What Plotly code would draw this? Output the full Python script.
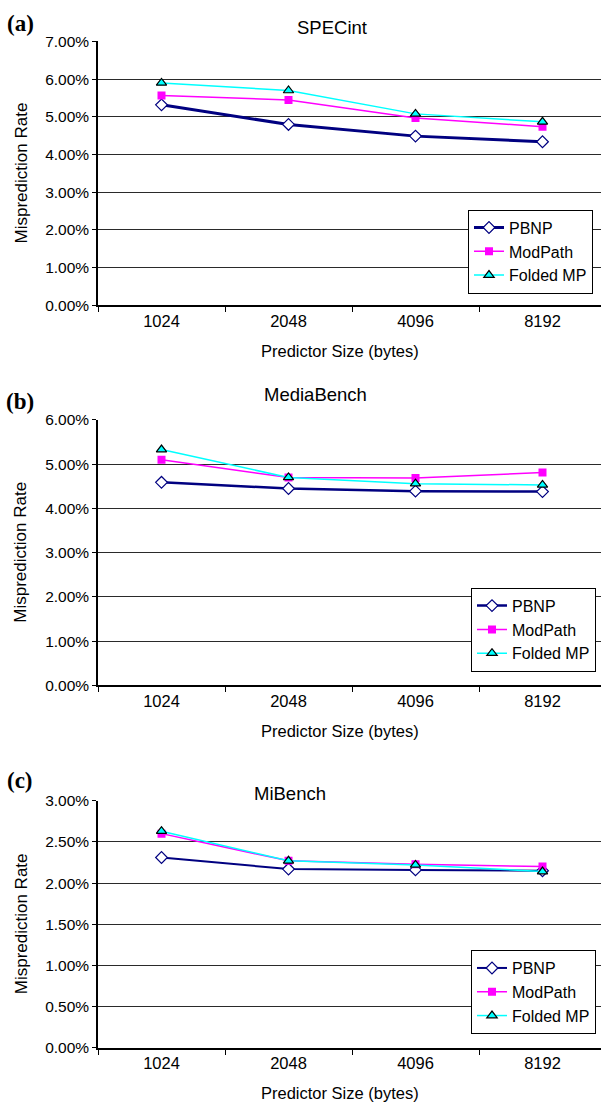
import plotly.graph_objects as go

W, H = 601, 1110

sizes = ["1024", "2048", "4096", "8192"]

spec_pbnp = [0.0532, 0.0480, 0.0449, 0.0434]
spec_modpath = [0.0557, 0.0545, 0.0497, 0.0474]
spec_folded = [0.0590, 0.0570, 0.0508, 0.0487]

media_pbnp = [0.0459, 0.0445, 0.0439, 0.0438]
media_modpath = [0.0510, 0.0470, 0.0469, 0.0481]
media_folded = [0.0533, 0.0470, 0.0456, 0.0453]

mi_pbnp = [0.0231, 0.0217, 0.0216, 0.0215]
mi_modpath = [0.0260, 0.0227, 0.0223, 0.0220]
mi_folded = [0.0263, 0.0227, 0.0222, 0.0214]

titles = ["SPECint", "MediaBench", "MiBench"]
panel_labels = ["(a)", "(b)", "(c)"]
series_names = ["PBNP", "ModPath", "Folded MP"]
y_max = [0.07, 0.06, 0.03]
y_dtick = [0.01, 0.01, 0.005]

data = [
    (spec_pbnp, spec_modpath, spec_folded),
    (media_pbnp, media_modpath, media_folded),
    (mi_pbnp, mi_modpath, mi_folded),
]

# layout in pixels: (plot top, plot bottom)
plot_tb = [(33, 301), (417.3, 687), (804, 1055)]
title_pos = [(332, 19), (315, 392), (290, 797)]
label_pos = [(20, 15), (20, 399), (20, 784)]
legend_rb = [(593, 289), (596, 673), (596, 1041)]
pbnp_width = [3, 2.5, 2]

def py(p):
    return 1 - p / H

def px(p):
    return p / W

FONT = "Liberation Sans, Arial, sans-serif"
fig = go.Figure()
annotations = []
x_left = 98
cat_w = 127
x_end = -0.5 + (W - x_left) / cat_w

for i in range(3):
    ax = "" if i == 0 else str(i + 1)
    lg = "legend" if i == 0 else "legend" + str(i + 1)
    pb, mp, fm = data[i]
    fig.add_trace(go.Scatter(
        x=sizes, y=pb, name=series_names[0], mode="lines+markers",
        line=dict(color="#000080", width=pbnp_width[i]),
        marker=dict(symbol="diamond", size=9, color="white",
                    line=dict(color="#000080", width=1.2)),
        xaxis="x" + ax, yaxis="y" + ax, legend=lg))
    fig.add_trace(go.Scatter(
        x=sizes, y=mp, name=series_names[1], mode="lines+markers",
        line=dict(color="#FF00FF", width=1.5),
        marker=dict(symbol="square", size=8, color="#FF00FF"),
        xaxis="x" + ax, yaxis="y" + ax, legend=lg))
    fig.add_trace(go.Scatter(
        x=sizes, y=fm, name=series_names[2], mode="lines+markers",
        line=dict(color="#00FFFF", width=1.5),
        marker=dict(symbol="triangle-up", size=9, color="#00FFFF",
                    line=dict(color="black", width=1.2)),
        xaxis="x" + ax, yaxis="y" + ax, legend=lg))

    top, bot = plot_tb[i]
    fig.update_layout(**{
        "xaxis" + ax: dict(
            domain=[px(x_left), 1], anchor="y" + ax, type="category",
            range=[-0.5, x_end], showline=True, linecolor="black", linewidth=1.5,
            ticks="outside", tickson="boundaries", ticklen=5, tickcolor="black",
            tickfont=dict(family=FONT, size=16.5, color="black"),
            showgrid=False, zeroline=False, fixedrange=True),
        "yaxis" + ax: dict(
            domain=[py(bot), py(top)], anchor="x" + ax,
            range=[0, y_max[i]], dtick=y_dtick[i], tickformat=".2%",
            showline=True, linecolor="black", linewidth=1.5,
            ticks="outside", ticklen=4, tickcolor="black",
            tickfont=dict(family=FONT, size=15.5, color="black"),
            showgrid=True, gridcolor="#2a2a2a", gridwidth=1,
            zeroline=False, fixedrange=True),
        lg: dict(
            x=px(legend_rb[i][0]), y=py(legend_rb[i][1]),
            xanchor="right", yanchor="bottom",
            bgcolor="white", bordercolor="black", borderwidth=1,
            font=dict(family=FONT, size=16, color="black"),
            tracegroupgap=0, itemwidth=30),
    })

    annotations.append(dict(
        text=titles[i], x=px(title_pos[i][0]), y=py(title_pos[i][1]),
        xref="paper", yref="paper", showarrow=False,
        xanchor="center", yanchor="middle",
        font=dict(family=FONT, size=18.5, color="black")))
    annotations.append(dict(
        text="<b>" + panel_labels[i] + "</b>", x=px(label_pos[i][0]), y=py(label_pos[i][1]),
        xref="paper", yref="paper", showarrow=False,
        xanchor="center", yanchor="middle",
        font=dict(family="Liberation Serif, Times New Roman, serif", size=23, color="black")))
    annotations.append(dict(
        text="Predictor Size (bytes)", x=px(340), y=py(bot + 46),
        xref="paper", yref="paper", showarrow=False,
        xanchor="center", yanchor="middle",
        font=dict(family=FONT, size=16.5, color="black")))
    annotations.append(dict(
        text="Misprediction Rate", x=px(21), y=py((top + bot) / 2),
        xref="paper", yref="paper", showarrow=False, textangle=-90,
        xanchor="center", yanchor="middle",
        font=dict(family=FONT, size=17, color="black")))

fig.update_layout(
    width=W, height=H,
    margin=dict(l=0, r=0, t=0, b=0),
    paper_bgcolor="white", plot_bgcolor="white",
    annotations=annotations,
)

fig.write_html("out.html", config={"displayModeBar": False})
